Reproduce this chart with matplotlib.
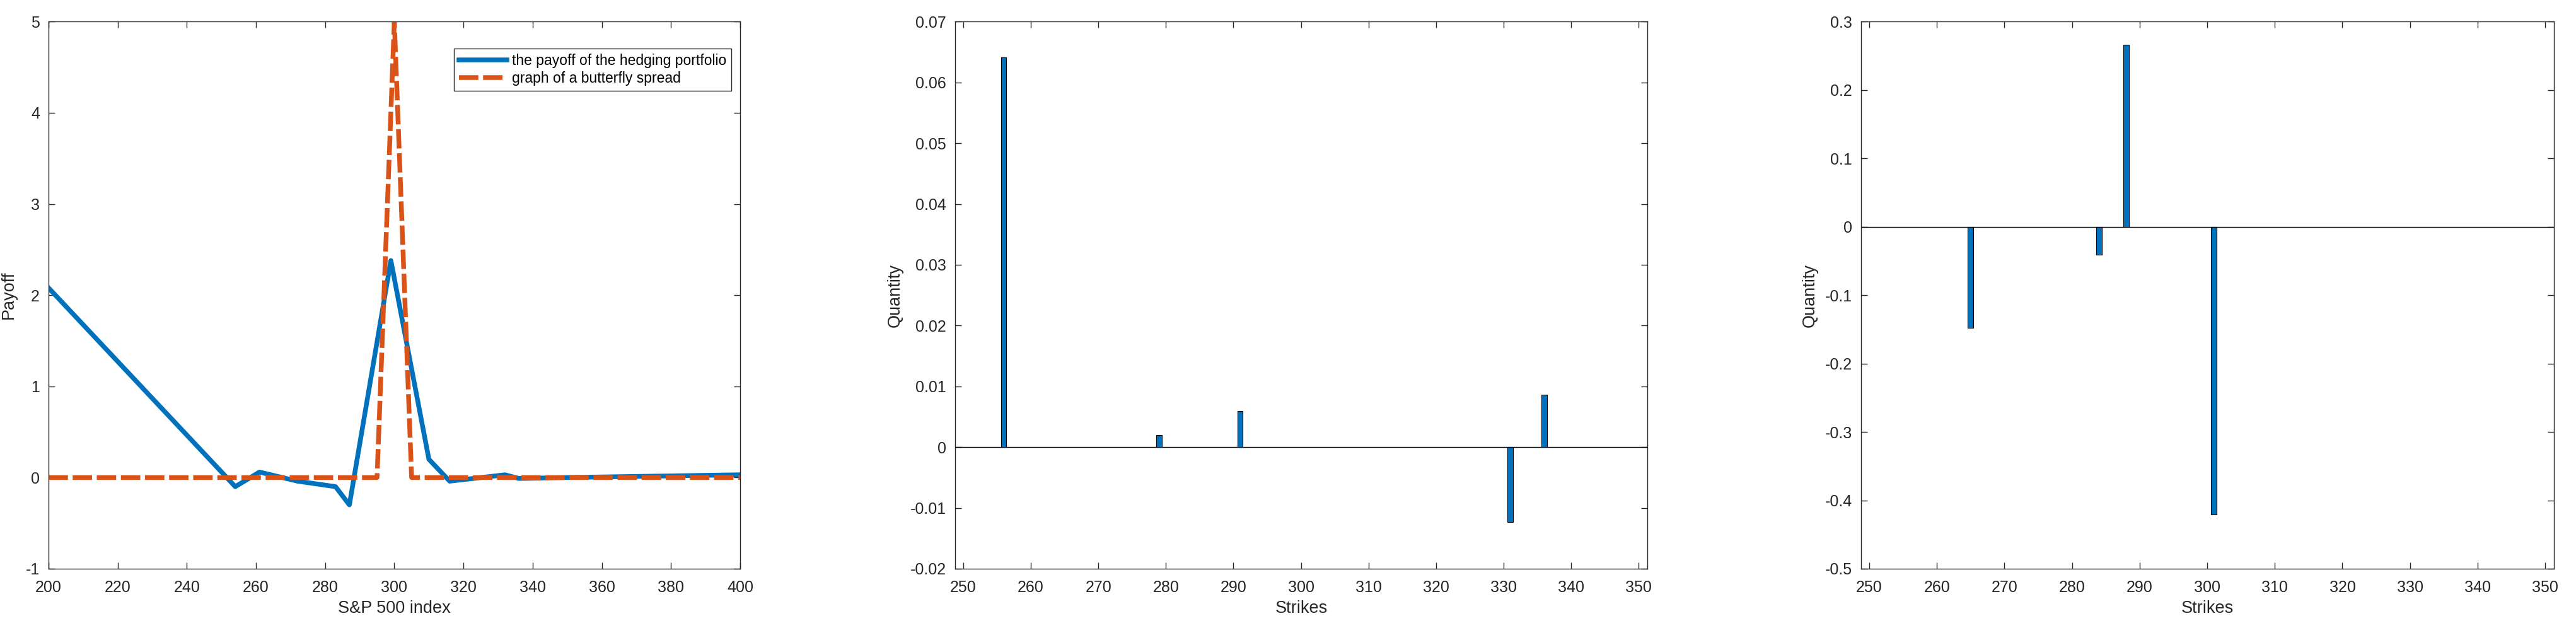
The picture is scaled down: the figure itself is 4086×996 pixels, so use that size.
import matplotlib.pyplot as plt

plt.rcParams['font.family'] = ['Liberation Sans', 'DejaVu Sans']

# Left panel: payoff curves
hedge_x = [200, 254, 261, 272, 283, 287, 299, 310, 316, 332, 336, 350, 400]
hedge_y = [2.08, -0.10, 0.06, -0.04, -0.10, -0.30, 2.38, 0.20, -0.04, 0.03, -0.01, 0.0, 0.03]
fly_x = [200, 295, 300, 305, 400]
fly_y = [0, 0, 5, 0, 0]

# Middle panel: quantities per strike
strikes_mid = [256, 279, 291, 331, 336]
qty_mid = [0.0641, 0.0020, 0.0059, -0.0123, 0.0086]

# Right panel: quantities per strike
strikes_right = [265, 284, 288, 301]
qty_right = [-0.148, -0.041, 0.266, -0.421]

blue = '#0072BD'
orange = '#D95319'
axcol = '#262626'

fig = plt.figure(figsize=(40.87, 9.96), dpi=100)
bottom, height = 0.0944, 0.8712
ax1 = fig.add_axes([0.01884, bottom, 0.2684, height])
ax2 = fig.add_axes([0.3707, bottom, 0.2687, height])
ax3 = fig.add_axes([0.7223, bottom, 0.2689, height])


def style(ax):
    ax.tick_params(direction='in', top=True, right=True, length=7.2, width=1,
                   labelsize=18, colors=axcol)
    ax.tick_params(axis='x', pad=13)
    ax.tick_params(axis='y', pad=10)
    for s in ax.spines.values():
        s.set_color(axcol)
        s.set_linewidth(1)


# 1. Payoff comparison
ax1.plot(hedge_x, hedge_y, color=blue, lw=5.4, label='the payoff of the hedging portfolio')
ax1.plot(fly_x, fly_y, color=orange, lw=5.4, dashes=(4.1, 1.0),
         label='graph of a butterfly spread')
ax1.set_xlim(200, 400)
ax1.set_ylim(-1, 5)
ax1.set_xticks(range(200, 401, 20))
ax1.set_yticks(range(-1, 6))
ax1.set_yticklabels([str(v) for v in range(-1, 6)])
ax1.set_xlabel('S&P 500 index', fontsize=19.5, color=axcol, labelpad=6)
ax1.set_ylabel('Payoff', fontsize=19.5, color=axcol, labelpad=10)
style(ax1)
leg = ax1.legend(loc='upper right', bbox_to_anchor=(0.9873, 0.9508), borderaxespad=0,
                 fontsize=16.5, fancybox=False, framealpha=1, edgecolor=axcol,
                 handlelength=3.3, handletextpad=0.35, borderpad=0.35,
                 labelspacing=0.2)
leg.get_frame().set_linewidth(1)

# 2 & 3. Quantities by strike
for ax, xs, ys, yl, yt in [
    (ax2, strikes_mid, qty_mid, (-0.02, 0.07), [i / 100 for i in range(-2, 8)]),
    (ax3, strikes_right, qty_right, (-0.5, 0.3), [i / 10 for i in range(-5, 4)]),
]:
    ax.bar(xs, ys, width=0.8, color=blue, edgecolor='black', linewidth=0.8, zorder=3)
    ax.axhline(0, color='black', lw=1, zorder=2)
    ax.set_xlim(248.8, 351.3)
    ax.set_ylim(*yl)
    ax.set_xticks(range(250, 351, 10))
    ax.set_yticks(yt)
    ax.set_yticklabels(['0' if abs(v) < 1e-12 else f'{v:g}' for v in yt])
    ax.set_xlabel('Strikes', fontsize=19.5, color=axcol, labelpad=6)
    ax.set_ylabel('Quantity', fontsize=19.5, color=axcol, labelpad=8)
    style(ax)

plt.savefig('out.png', dpi=100)
